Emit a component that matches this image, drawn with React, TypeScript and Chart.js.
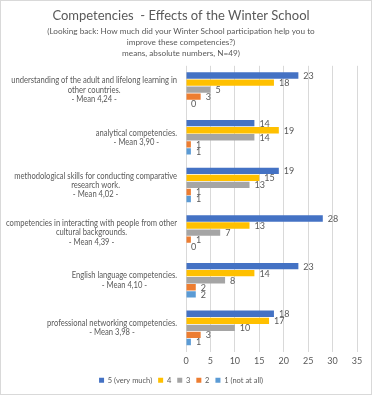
import React, { useEffect, useRef } from "react";
import { Chart, registerables } from "chart.js";

Chart.register(...registerables);

const categories: string[][] = [
  ["understanding of the adult and lifelong learning in", "other countries.", "- Mean 4,24 -"],
  ["analytical competencies.", "- Mean 3,90 -"],
  ["methodological skills for conducting comparative", "research work.", "- Mean 4,02 -"],
  ["competencies in interacting with people from other", "cultural backgrounds.", "- Mean 4,39 -"],
  ["English language competencies.", "- Mean 4,10 -"],
  ["professional networking competencies.", "- Mean 3,98 -"],
];

const seriesNames = ["5 (very much)", "4", "3", "2", "1 (not at all)"];
const seriesColors = ["#4472C4", "#FFC000", "#A5A5A5", "#ED7D31", "#5B9BD5"];

const values5 = [23, 14, 19, 28, 23, 18];
const values4 = [18, 19, 15, 13, 14, 17];
const values3 = [5, 14, 13, 7, 8, 10];
const values2 = [3, 1, 1, 1, 2, 3];
const values1 = [0, 1, 1, 0, 2, 1];

const xTicks = [0, 5, 10, 15, 20, 25, 30, 35];

const titleText = "Competencies  - Effects of the Winter School";
const subtitleLines = [
  "(Looking back: How much did your Winter School participation help you to",
  "improve these competencies?)",
  "means, absolute numbers, N=49)",
];

const FONT = "Lato, 'Open Sans', sans-serif";
const TEXT = "#595959";

export default function App() {
  const ref = useRef<HTMLCanvasElement | null>(null);

  useEffect(() => {
    document.body.style.margin = "0";
    const canvas = ref.current;
    if (!canvas) return;

    const allValues = [values5, values4, values3, values2, values1];

    const valueLabels = {
      id: "valueLabels",
      afterDatasetsDraw(chart: any) {
        const ctx = chart.ctx;
        ctx.save();
        ctx.font = `9px ${FONT}`;
        ctx.fillStyle = TEXT;
        ctx.textBaseline = "middle";
        ctx.textAlign = "left";
        chart.data.datasets.forEach((ds: any, di: number) => {
          const meta = chart.getDatasetMeta(di);
          meta.data.forEach((el: any, i: number) => {
            ctx.fillText(String(ds.data[i]), el.x + 5, el.y + 0.5);
          });
        });
        ctx.restore();
      },
    };

    const yLabels = {
      id: "yLabels",
      afterDraw(chart: any) {
        const ctx = chart.ctx;
        const scale = chart.scales.y;
        const right = chart.chartArea.left - 9;
        const lh = 9.3;
        const targetMax = 171;
        ctx.save();
        ctx.font = `9px ${FONT}`;
        ctx.fillStyle = TEXT;
        ctx.textBaseline = "middle";
        ctx.textAlign = "center";
        let widest = 0;
        categories.forEach((lines) =>
          lines.forEach((l) => (widest = Math.max(widest, ctx.measureText(l).width)))
        );
        const f = Math.min(1, targetMax / widest);
        categories.forEach((lines, i) => {
          const cy = scale.getPixelForTick(i);
          const widths = lines.map((l) => ctx.measureText(l).width * f);
          const maxW = Math.max(...widths);
          const cx = right - maxW / 2;
          const y0 = cy - ((lines.length - 1) * lh) / 2;
          lines.forEach((l, k) => ctx.fillText(l, cx, y0 + k * lh, widths[k]));
        });
        ctx.restore();
      },
    };

    const chart = new Chart(canvas, {
      type: "bar",
      data: {
        labels: categories.map((c) => c.join(" ")),
        datasets: seriesNames.map((name, k) => ({
          label: name,
          data: allValues[k],
          backgroundColor: seriesColors[k],
          borderWidth: 0,
          categoryPercentage: 0.74,
          barPercentage: 0.9,
        })),
      },
      options: {
        indexAxis: "y",
        animation: false,
        responsive: true,
        maintainAspectRatio: false,
        layout: { padding: { left: 4, right: 14, top: 0, bottom: 0 } },
        scales: {
          x: {
            min: 0,
            max: 35,
            afterBuildTicks(scale: any) {
              scale.ticks = xTicks.map((v) => ({ value: v }));
            },
            ticks: { color: TEXT, font: { size: 9, family: FONT }, padding: 4 },
            grid: { color: "#d9d9d9", drawTicks: false },
            border: { display: false },
          },
          y: {
            ticks: { display: false },
            grid: { display: false },
            border: { display: false },
            afterFit(scale: any) {
              scale.width = 181;
            },
          },
        },
        plugins: {
          title: {
            display: true,
            text: titleText,
            color: TEXT,
            font: { size: 13, family: FONT, weight: "normal" },
            padding: { top: 7, bottom: 2 },
          },
          subtitle: {
            display: true,
            text: subtitleLines,
            color: TEXT,
            font: { size: 8.2, family: FONT, weight: "normal", lineHeight: 1.35 },
            padding: { top: 0, bottom: 7 },
          },
          legend: {
            position: "bottom",
            labels: {
              boxWidth: 5,
              boxHeight: 5,
              color: TEXT,
              font: { size: 7.5, family: FONT },
              padding: 6,
            },
          },
          tooltip: { enabled: false },
        },
      },
      plugins: [valueLabels, yLabels],
    } as any);

    return () => chart.destroy();
  }, []);

  return (
    <div
      style={{
        width: 372,
        height: 395,
        boxSizing: "border-box",
        border: "1px solid #d9d9d9",
        background: "#fff",
        position: "relative",
      }}
    >
      <canvas ref={ref} />
    </div>
  );
}
